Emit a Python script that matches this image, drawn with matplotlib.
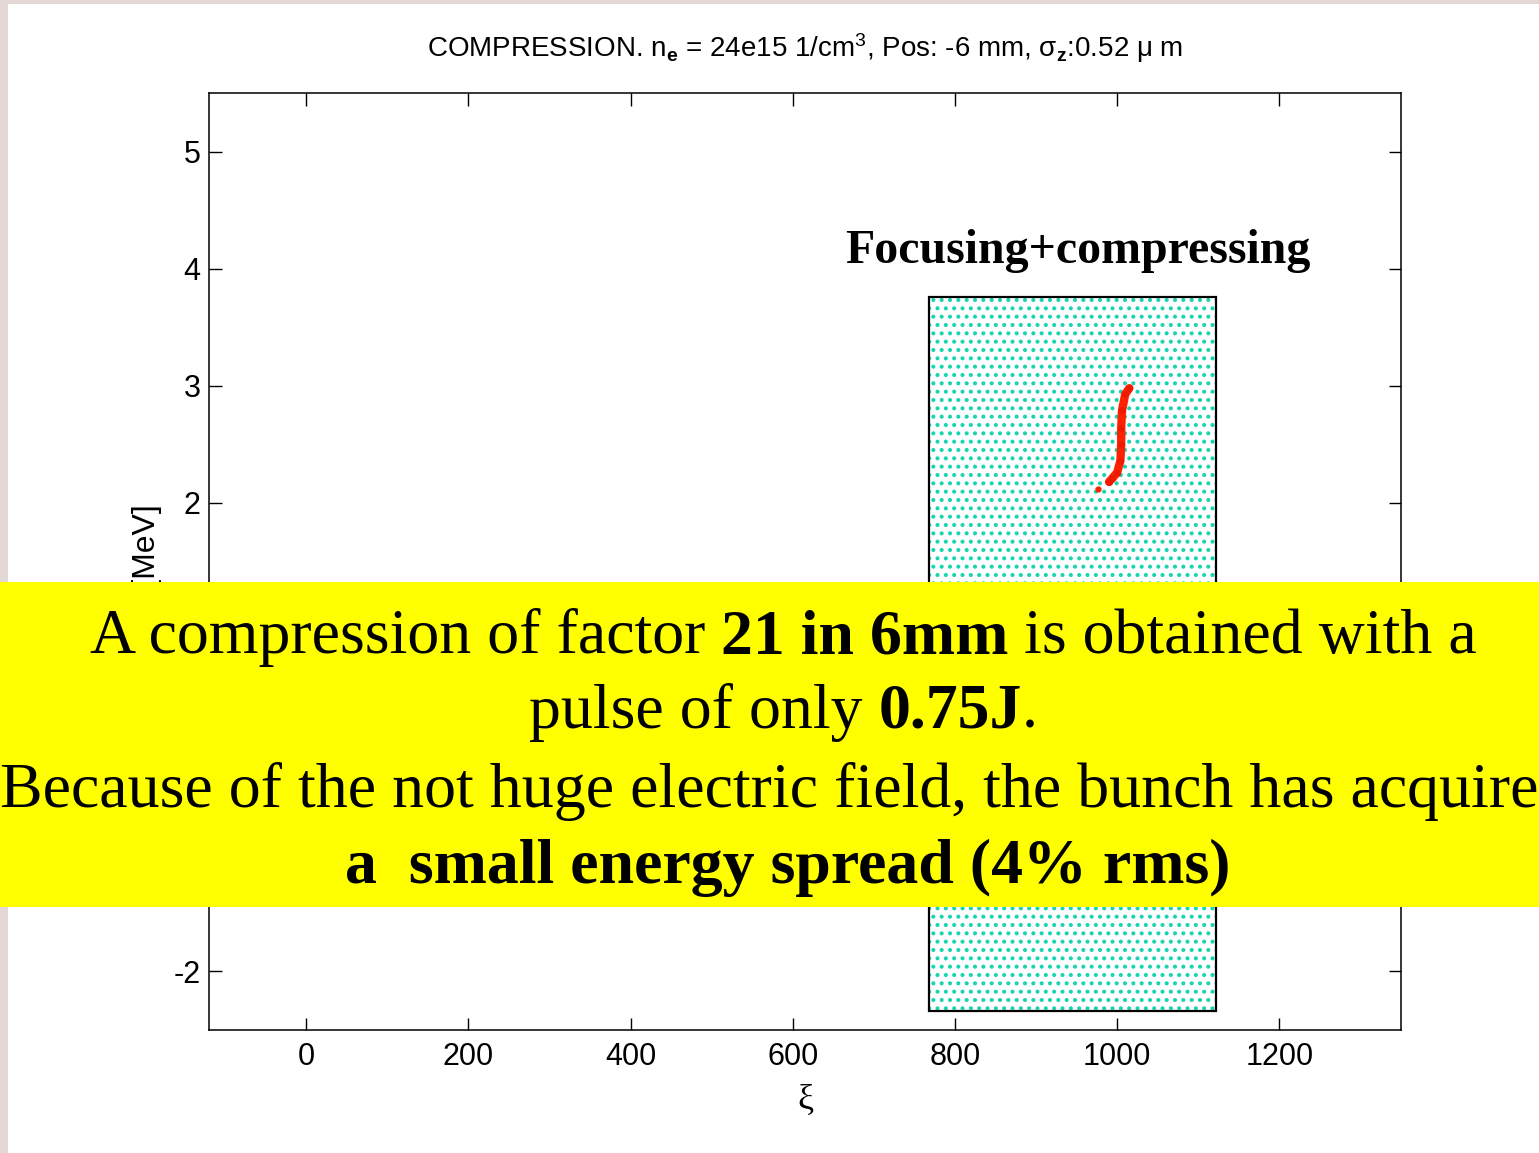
import matplotlib
matplotlib.use('Agg')
import matplotlib.pyplot as plt
from matplotlib.patches import Rectangle

# ---- data ----
x_ticks = [0, 200, 400, 600, 800, 1000, 1200]
y_ticks = [-2, -1, 0, 1, 2, 3, 4, 5]
x_lim = (-120, 1350)
y_lim = (-2.5, 5.5)

# focusing+compressing region (xi, energy)
region_x = (768, 1122)
region_y = (-2.34, 3.76)

# bunch particles (xi, energy)
bunch_x = [990, 994, 1000, 1004, 1005, 1005, 1006, 1010, 1015]
bunch_y = [2.18, 2.21, 2.26, 2.36, 2.50, 2.64, 2.79, 2.93, 2.98]
stray_x = [976]
stray_y = [2.12]

title = (r'COMPRESSION. n$_{\mathbf{e}}$ = 24e15 1/cm$^{3}$, Pos: -6 mm, '
         r'σ$_{\mathbf{z}}$:0.52 μ m')
region_label = 'Focusing+compressing'

plt.rcParams['font.family'] = ['Liberation Sans', 'DejaVu Sans']
plt.rcParams['mathtext.fontset'] = 'custom'
plt.rcParams['mathtext.rm'] = 'Liberation Sans'
plt.rcParams['mathtext.bf'] = 'Liberation Sans:bold'
plt.rcParams['mathtext.it'] = 'Liberation Sans:italic'
plt.rcParams['axes.unicode_minus'] = False
plt.rcParams['hatch.linewidth'] = 1.7

fig = plt.figure(figsize=(15.39, 11.53), dpi=100, facecolor='#e4d8d6')
# white slide area (a thin strip of slide background shows left and top)
fig.patches.append(Rectangle((8 / 1539, 0), 1, 1 - 4 / 1153, transform=fig.transFigure,
                             facecolor='white', edgecolor='none', zorder=-1))

ax = fig.add_axes([0.1358, 0.1067, 0.7745, 0.8126])
ax.set_facecolor('white')
ax.set_xlim(*x_lim)
ax.set_ylim(*y_lim)
ax.set_xticks(x_ticks)
ax.set_yticks(y_ticks)
ax.tick_params(direction='in', length=9, width=1, top=True, right=True,
               labelsize=22, colors='black')
ax.tick_params(axis='x', pad=9)
ax.tick_params(axis='y', pad=6)
for s in ax.spines.values():
    s.set_linewidth(1.1)

# dotted region
w = region_x[1] - region_x[0]
h = region_y[1] - region_y[0]
ax.add_patch(Rectangle((region_x[0], region_y[0]), w, h, facecolor='white',
                       edgecolor='#18d4b0', linewidth=0, hatch='..', zorder=1))
ax.add_patch(Rectangle((region_x[0], region_y[0]), w, h, fill=False,
                       edgecolor='black', linewidth=1.6, zorder=2))

ax.plot(bunch_x, bunch_y, color='#ff2200', linewidth=6, solid_capstyle='round', zorder=3)
ax.plot(bunch_x, bunch_y, 'o', color='#ee1a00', markersize=4, zorder=3)
ax.plot(stray_x, stray_y, 'o', color='#ff2200', markersize=3.5, zorder=3)

ax.text(665, 4.05, region_label, family='Liberation Serif', fontweight='bold',
        fontsize=34.5, va='baseline', ha='left', zorder=4)

ax.set_title(title, fontsize=20, pad=26)
ax.set_xlabel('ξ', family='Liberation Serif', fontsize=26, labelpad=8)
ax.set_ylabel('E [MeV]', fontsize=23, labelpad=8)

# ---- yellow note box over the plot ----
fig.patches.append(Rectangle((0, 1 - 907 / 1153), 1, (907 - 582) / 1153,
                             transform=fig.transFigure, facecolor='#ffff00',
                             edgecolor='none', zorder=5))

FS = 46
SERIF = 'Liberation Serif'
renderer = fig.canvas.get_renderer()


def text_width(s, bold):
    t = fig.text(0, 0, s, fontsize=FS, family=SERIF,
                 fontweight='bold' if bold else 'normal')
    wd = t.get_window_extent(renderer).width
    t.remove()
    return wd


space_w = text_width('a a', False) - text_width('aa', False)


def rich_line(y_px, parts, xc=0.509):
    # parts: list of (text, bold, gap_before)
    widths = [text_width(p[0], p[1]) for p in parts]
    total = sum(widths) + sum(space_w for p in parts if p[2])
    x = xc * fig.bbox.width - total / 2
    yf = 1 - y_px / 1153
    for (s, bold, gap), wd in zip(parts, widths):
        if gap:
            x += space_w
        fig.text(x / fig.bbox.width, yf, s, fontsize=FS, family=SERIF,
                 fontweight='bold' if bold else 'normal', va='baseline',
                 ha='left', zorder=6)
        x += wd


rich_line(653, [('A compression of factor', False, False),
                ('21 in 6mm', True, True),
                ('is obtained with a', False, True)])
rich_line(728, [('pulse of only', False, False),
                ('0.75J', True, True),
                ('.', False, False)])
rich_line(807, [('Because of the not huge electric field, the bunch has acquired', False, False)],
          xc=0.5105)
rich_line(883, [('a  small energy spread (4% rms)', True, False)], xc=0.512)

fig.savefig('out.png', dpi=100, facecolor=fig.get_facecolor())
